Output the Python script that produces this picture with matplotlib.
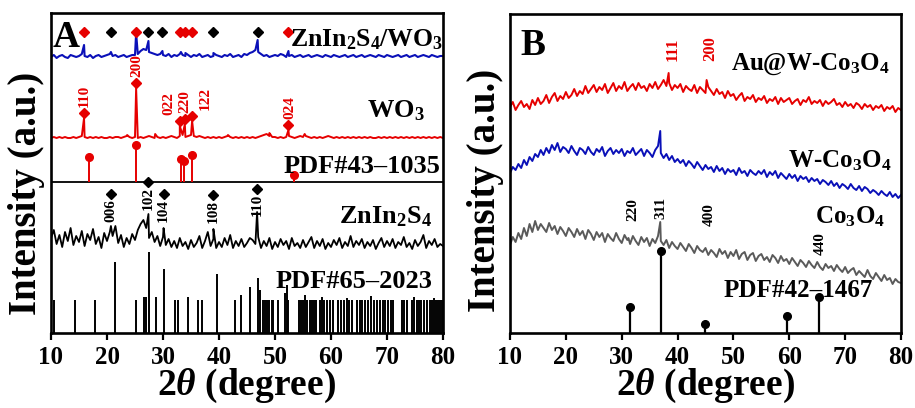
import numpy as np
import matplotlib
matplotlib.use("Agg")
import matplotlib.pyplot as plt

plt.rcParams["font.family"] = ["Liberation Serif", "DejaVu Serif"]
plt.rcParams["font.weight"] = "bold"
plt.rcParams["mathtext.fontset"] = "custom"
plt.rcParams["mathtext.rm"] = "Liberation Serif:bold"
plt.rcParams["mathtext.bf"] = "Liberation Serif:bold"
plt.rcParams["mathtext.it"] = "Liberation Serif:italic:bold"
plt.rcParams["mathtext.default"] = "bf"

# ----------------------------
# DATA (2theta grid every 0.5 deg, intensities)
# ----------------------------
two_theta = np.arange(10.0, 80.01, 0.5)

# panel A: ZnIn2S4/WO3 composite (blue)
comp_base = [0, 2, -1, 1, 2, 0, -1, 2, 1, 0,
             1, 3, 1, 0, 2, -1, 1, 2, 0, 1,
             2, 3, 1, 2, 0, 1, 2, 0, 1, 2,
             2, 3, 6, 8, 7, 5, 4, 3, 2, 3,
             2, 1, 3, 0, 2, 1, 3, 2, 1, 2,
             0, 2, 1, 3, 0, 1, 2, 0, 1, 2,
             1, 0, 2, 1, 3, 0, 1, 2, 0, 3,
             2, 4, 5, 7, 5, 3, 1, 2, 0, 1,
             2, 1, 3, 2, 0, 1, 2, 0, 1, 2,
             0, 1, 2, 0, 1, 2, 1, 0, 2, 1,
             0, 2, 1, 0, 1, 2, 0, 1, 2, 0,
             1, 2, 0, 1, 2, 1, 0, 2, 1, 0,
             2, 1, 0, 1, 2, 0, 1, 2, 0, 1,
             2, 0, 1, 2, 1, 0, 2, 1, 0, 1,
             1]
comp_peaks = [(15.9, 12), (20.7, 5), (25.2, 24), (27.4, 16), (29.9, 6),
              (33.2, 5), (34.0, 4), (39.0, 4), (46.9, 17), (52.4, 6)]

# panel A: WO3 (red)
wo3_base = [0, 1, 0, 1, 0, 1, 0, 0, 1, 0,
            1, 2, 1, 0, 1, 0, 1, 0, 1, 0,
            0, 1, 0, 1, 1, 0, 1, 2, 1, 0,
            1, 0, 1, 0, 1, 2, 1, 0, 1, 0,
            1, 0, 1, 2, 1, 0, 2, 3, 1, 2,
            3, 2, 1, 2, 1, 0, 1, 0, 1, 0,
            1, 0, 1, 2, 1, 0, 1, 0, 1, 0,
            1, 0, 1, 0, 1, 2, 3, 4, 2, 1,
            1, 0, 1, 0, 1, 2, 1, 0, 1, 2,
            1, 2, 1, 0, 1, 0, 1, 0, 1, 2,
            1, 0, 1, 0, 1, 0, 1, 0, 1, 0,
            1, 0, 1, 0, 1, 0, 0, 1, 0, 1,
            0, 1, 0, 1, 0, 1, 0, 1, 0, 1,
            0, 1, 0, 1, 0, 1, 0, 1, 0, 1,
            0]
wo3_peaks = [(15.9, 20), (23.6, 3), (25.2, 50), (28.6, 4), (33.0, 12),
             (33.9, 14), (35.2, 17), (41.6, 3), (49.0, 5), (52.4, 8), (55.3, 4)]
wo3_hkl = ["110", "200", "022", "220", "122", "024"]
wo3_hkl_pos = [15.9, 25.2, 33.0, 33.9, 35.2, 52.4]
wo3_hkl_text_pos = [16.0, 25.3, 31.1, 33.9, 37.5, 52.7]

# PDF#43-1035 reference sticks
pdf43_pos = [16.8, 25.2, 33.3, 33.75, 35.2, 53.4]
pdf43_int = [25, 37, 23, 21, 27, 7]

# panel A: ZnIn2S4 (black)
zis_base = [12, 20, 6, 15, 3, 18, 9, 22, 5, 14,
            8, 19, 4, 16, 10, 21, 6, 13, 2, 17,
            9, 18, 14, 24, 7, 15, 3, 12, 6, 16,
            10, 20, 26, 30, 22, 12, 18, 8, 14, 4,
            13, 5, 11, 3, 9, 2, 12, 4, 8, 1,
            10, 3, 7, 14, 2, 9, 18, 4, 11, 2,
            8, 3, 12, 5, 15, 2, 9, 4, 11, 3,
            7, 12, 10, 6, 13, 2, 9, 4, 12, 1,
            8, 3, 11, 5, 9, 1, 12, 4, 7, 2,
            10, 3, 8, 13, 2, 9, 4, 11, 1, 7,
            3, 10, 5, 12, 2, 8, 4, 14, 3, 9,
            5, 11, 2, 8, 4, 10, 1, 7, 12, 3,
            9, 4, 11, 2, 8, 5, 13, 3, 7, 1,
            10, 4, 8, 15, 2, 9, 5, 11, 3, 6,
            4]
zis_peaks = [(20.7, 24), (27.4, 36), (30.1, 22), (39.0, 21), (46.8, 38)]
zis_hkl = ["006", "102", "104", "108", "110"]
zis_hkl_pos = [20.7, 27.4, 30.1, 39.0, 46.8]

# PDF#65-2023 reference sticks
pdf65_pos = [10.5, 14.2, 17.9, 21.4, 25.1, 26.6, 26.9, 27.5, 28.8, 30.2,
             32.1, 32.6, 34.4, 36.3, 37.0, 39.7, 42.9, 43.9, 45.5, 47.0,
             47.4, 47.8, 48.2, 48.6, 49.0, 49.4, 49.7, 50.6, 51.8, 52.1,
             52.4, 54.2, 54.6, 55.0, 55.4, 55.8, 56.2, 56.6, 57.0, 57.4,
             58.0, 58.4, 58.8, 59.3, 59.8, 60.4, 61.3, 61.8, 62.3, 62.8,
             63.3, 63.7, 64.6, 65.1, 65.6, 66.1, 66.6, 67.1, 67.6, 68.2,
             68.7, 69.2, 69.7, 70.2, 70.7, 71.1, 72.6, 73.0, 73.5, 74.4,
             74.9, 75.3, 75.7, 76.1, 76.6, 77.1, 77.7, 78.0, 78.4, 78.7,
             79.1, 79.4, 79.8]
pdf65_int = [33, 33, 33, 71, 33, 36, 36, 81, 36, 64,
             33, 33, 36, 33, 33, 59, 33, 38, 46, 55,
             43, 33, 33, 33, 33, 33, 33, 33, 40, 48,
             33, 33, 33, 33, 38, 33, 33, 33, 33, 33,
             33, 36, 33, 33, 33, 33, 33, 33, 33, 35,
             33, 33, 33, 33, 33, 33, 33, 37, 33, 33,
             33, 33, 33, 33, 33, 33, 33, 33, 33, 33,
             36, 33, 33, 33, 33, 33, 33, 33, 35, 33,
             33, 33, 33]

# top row of phase markers in panel A
wo3_marks = [15.9, 25.2, 33.0, 33.9, 35.1, 52.4]
zis_marks = [20.7, 27.4, 29.9, 39.0, 46.9]

# panel B: Au@W-Co3O4 (red)
au_base = [6, 11, 3, 8, 12, 6, 9, 4, 13, 8,
           15, 9, 12, 18, 10, 16, 20, 12, 17, 14,
           21, 15, 18, 24, 17, 22, 19, 27, 20, 24,
           28, 21, 26, 23, 29, 20, 25, 30, 22, 27,
           24, 31, 22, 26, 29, 23, 30, 25, 27, 22,
           29, 25, 31, 24, 28, 33, 27, 30, 23, 28,
           25, 29, 21, 27, 24, 22, 28, 20, 26, 23,
           20, 26, 22, 18, 24, 19, 21, 15, 22, 17,
           19, 13, 17, 20, 12, 16, 14, 18, 11, 15,
           13, 17, 10, 14, 12, 16, 9, 15, 11, 13,
           15, 9, 12, 14, 8, 13, 11, 16, 9, 12,
           10, 13, 7, 12, 9, 11, 14, 8, 10, 6,
           11, 7, 9, 5, 10, 8, 4, 9, 6, 8,
           3, 7, 5, 8, 2, 6, 4, 7, 1, 5,
           3]
au_peaks = [(38.4, 40), (45.2, 33)]
au_hkl = ["111", "200"]
au_hkl_pos = [39.2, 45.8]

# panel B: W-Co3O4 (blue)
w_base = [10, 16, 13, 19, 15, 23, 18, 26, 22, 29,
          26, 33, 28, 35, 30, 38, 33, 40, 31, 36,
          34, 30, 37, 32, 28, 35, 33, 29, 36, 31,
          28, 34, 31, 36, 27, 32, 35, 29, 33, 30,
          34, 27, 32, 30, 35, 28, 31, 34, 27, 33,
          30, 26, 33, 37, 30, 25, 29, 23, 27, 21,
          24, 20, 23, 17, 22, 19, 15, 21, 17, 13,
          18, 14, 16, 11, 17, 12, 15, 9, 14, 11,
          13, 8, 15, 10, 12, 7, 13, 10, 8, 12,
          9, 13, 6, 11, 8, 12, 5, 10, 7, 4,
          9, 5, 8, 2, 7, 4, 6, 1, 5, 2,
          4, -1, 3, 1, -2, 2, -3, 0, -5, -1,
          -3, -6, -1, -5, -7, -3, -8, -4, -6, -10,
          -7, -9, -12, -8, -11, -13, -9, -14, -11, -15,
          -12]
w_peaks = [(36.9, 52)]

# panel B: Co3O4 (gray)
co_base = [13, 21, 16, 25, 19, 30, 22, 34, 26, 37,
           28, 34, 30, 26, 35, 28, 32, 24, 31, 27,
           22, 30, 26, 21, 29, 23, 27, 19, 28, 24,
           18, 26, 21, 25, 16, 24, 20, 17, 25, 19,
           15, 23, 18, 14, 22, 17, 13, 21, 16, 20,
           12, 19, 15, 22, 17, 13, 18, 10, 16, 12,
           9, 15, 11, 7, 14, 10, 5, 12, 8, 6,
           10, 3, 8, 5, 1, 9, 4, 7, 0, 6,
           2, 8, -1, 4, 6, -2, 3, 5, -3, 2,
           4, -2, 1, -4, 3, 0, -5, 2, -3, -1,
           -6, 0, -4, -8, -2, -5, -9, -3, -7, -10,
           -4, -9, -12, -6, -10, -8, -13, -7, -11, -14,
           -9, -15, -12, -10, -17, -13, -16, -19, -12, -18,
           -21, -15, -19, -23, -17, -22, -20, -26, -21, -24,
           -25]
co_peaks = [(31.2, 20), (36.9, 36)]
co_hkl = ["220", "311", "400", "440"]
co_hkl_pos = [32.0, 37.0, 45.6, 65.6]

# PDF#42-1467 reference sticks
pdf42_pos = [31.4, 37.0, 44.9, 59.6, 65.3]
pdf42_int = [26, 82, 9, 17, 36]

RED = "#e60000"
BLUE = "#0a10b8"
GRAY = "#5a5a5a"


def build(base, peaks):
    x = np.concatenate([two_theta, [p for p, _ in peaks]])
    y = np.concatenate([np.asarray(base, dtype=float), [h for _, h in peaks]])
    order = np.argsort(x, kind="stable")
    return x[order], y[order]


def style_axes(ax):
    ax.set_xlim(10, 80)
    ax.set_xticks(range(10, 81, 10))
    ax.set_yticks([])
    ax.tick_params(axis="x", direction="out", length=5, width=1.6, pad=4, labelsize=18)
    for s in ax.spines.values():
        s.set_linewidth(1.9)
    for lab in ax.get_xticklabels():
        lab.set_fontweight("bold")


fig = plt.figure(figsize=(9.15, 4.08), dpi=100)
axA = fig.add_axes([51 / 915, 75 / 408, 392 / 915, 320 / 408])
axB = fig.add_axes([510 / 915, 75 / 408, 391 / 915, 319 / 408])

# ----------------------------
# PANEL A
# ----------------------------
axA.set_ylim(0, 320)
lab_kw = dict(ha="right", va="baseline", fontsize=19, fontweight="bold")
hkl_kw = dict(rotation=90, ha="center", fontsize=11, fontweight="bold")

axA.vlines(pdf65_pos, 0, pdf65_int, color="k", lw=1.4)
axA.text(78.2, 45, "PDF#65\u20132023", **lab_kw)

x, y = build(zis_base, zis_peaks)
axA.plot(x, y + 83, color="k", lw=1.3)
axA.text(78.0, 110, "ZnIn$_2$S$_4$", **lab_kw)
for pos, lab, ty in zip(zis_hkl_pos, zis_hkl, [139, 151, 139, 138, 144]):
    axA.plot(pos, ty, "D", color="k", ms=5.5)
    axA.text(pos, ty - 5, lab, va="top", color="k", **hkl_kw)

axA.axhline(151, color="k", lw=1.3)
axA.vlines(pdf43_pos, 151, np.add(pdf43_int, 151), color=RED, lw=1.4)
axA.plot(pdf43_pos, np.add(pdf43_int, 151), "o", color=RED, ms=5.5)
axA.text(79.5, 160, "PDF#43\u20131035", **lab_kw)

x, y = build(wo3_base, wo3_peaks)
axA.plot(x, y + 195, color=RED, lw=1.4)
axA.text(76.8, 216, "WO$_3$", **lab_kw)
wo3_h = dict(wo3_peaks)
for pos, tpos, lab in zip(wo3_hkl_pos, wo3_hkl_text_pos, wo3_hkl):
    my = 195 + wo3_h[pos] + 5
    axA.plot(pos, my, "D", color=RED, ms=5.5)
    axA.text(tpos, my + 6, lab, va="bottom", color=RED, **hkl_kw)

x, y = build(comp_base, comp_peaks)
axA.plot(x, y + 276, color=BLUE, lw=1.5)
axA.plot(wo3_marks, [301] * len(wo3_marks), "D", color=RED, ms=5.5)
axA.plot(zis_marks, [301] * len(zis_marks), "D", color="k", ms=5.5)
axA.text(80, 287, "ZnIn$_2$S$_4$/WO$_3$", ha="right", va="baseline",
         fontsize=18.5, fontweight="bold")
axA.text(10.3, 286, "A", fontsize=27, fontweight="bold", va="baseline")
style_axes(axA)

# ----------------------------
# PANEL B
# ----------------------------
axB.set_ylim(0, 319)
axB.vlines(pdf42_pos, 0, pdf42_int, color="k", lw=1.6)
axB.plot(pdf42_pos, pdf42_int, "o", color="k", ms=5.5)
axB.text(74.9, 36, "PDF#42\u20131467", ha="right", va="baseline", fontsize=18, fontweight="bold")

x, y = build(co_base, co_peaks)
axB.plot(x, y + 75, color=GRAY, lw=1.4)
axB.text(77.1, 110, "Co$_3$O$_4$", ha="right", va="baseline", fontsize=18, fontweight="bold")
for pos, lab, ty in zip(co_hkl_pos, co_hkl, [123, 125, 118, 89]):
    axB.text(pos, ty, lab, va="center", color="k", **hkl_kw)

x, y = build(w_base, w_peaks)
axB.plot(x, y + 150, color=BLUE, lw=1.4)
axB.text(78.3, 166, "W-Co$_3$O$_4$", ha="right", va="baseline", fontsize=18, fontweight="bold")

x, y = build(au_base, au_peaks)
axB.plot(x, y + 220, color=RED, lw=1.4)
axB.text(78.0, 263, "Au@W-Co$_3$O$_4$", ha="right", va="baseline", fontsize=18, fontweight="bold")
for pos, lab in zip(au_hkl_pos, au_hkl):
    axB.text(pos, 284, lab, va="center", color=RED, fontsize=12,
             rotation=90, ha="center", fontweight="bold")
axB.text(11.8, 278, "B", fontsize=27, fontweight="bold", va="baseline")
style_axes(axB)

# axis titles
for xc in (247, 706):
    fig.text(xc / 915, 1 - 386 / 408, r"2$\mathit{\theta}$ (degree)",
             ha="center", va="center", fontsize=27, fontweight="bold")
for xc, yc in ((27, 193), (485, 190)):
    fig.text(xc / 915, 1 - yc / 408, "Intensity (a.u.)", rotation=90,
             ha="center", va="center", fontsize=28, fontweight="bold")

fig.savefig("out.png", dpi=100)
